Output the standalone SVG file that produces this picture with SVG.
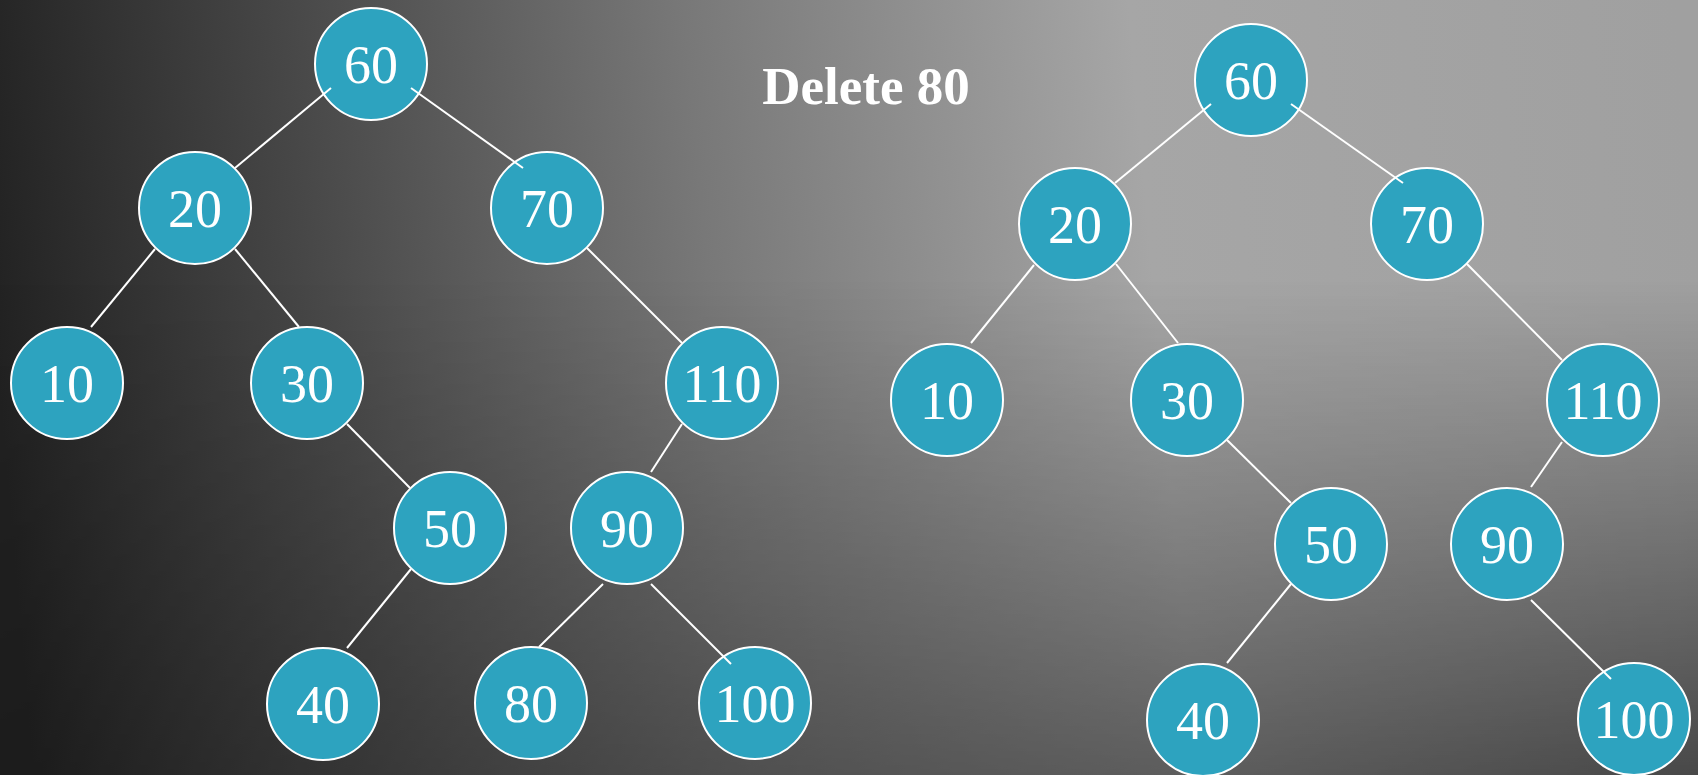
<svg xmlns="http://www.w3.org/2000/svg" width="1698" height="775" viewBox="0 0 1698 775">
  <defs>
    <!-- base backdrop: dark on the left, light grey to the right -->
    <linearGradient id="bg" gradientUnits="userSpaceOnUse" x1="0" y1="400" x2="1698" y2="250">
      <stop offset="0" stop-color="#222222"/>
      <stop offset="0.18" stop-color="#464646"/>
      <stop offset="0.42" stop-color="#787878"/>
      <stop offset="0.68" stop-color="#a6a6a6"/>
      <stop offset="1" stop-color="#a0a0a0"/>
    </linearGradient>
    <!-- shading that darkens the lower part -->
    <linearGradient id="shade" gradientUnits="userSpaceOnUse" x1="0" y1="280" x2="0" y2="775">
      <stop offset="0" stop-color="#000000" stop-opacity="0"/>
      <stop offset="1" stop-color="#000000" stop-opacity="0.55"/>
    </linearGradient>
    <linearGradient id="shadeMaskFill" gradientUnits="userSpaceOnUse" x1="0" y1="0" x2="1698" y2="0">
      <stop offset="0" stop-color="#4d4d4d"/>
      <stop offset="1" stop-color="#ffffff"/>
    </linearGradient>
    <mask id="shadeMask" maskUnits="userSpaceOnUse" x="0" y="0" width="1698" height="775">
      <rect x="0" y="0" width="1698" height="775" fill="url(#shadeMaskFill)"/>
    </mask>
    <style>
      .node circle { fill: #2da3bf; stroke: #ffffff; stroke-width: 2; }
      .node text { fill: #ffffff; font-family: "Liberation Serif", "Times New Roman", serif; font-size: 54px; text-anchor: middle; }
      .edges line { stroke: #ffffff; stroke-width: 2; }
      .title { fill: #ffffff; font-family: "Liberation Serif", "Times New Roman", serif; font-size: 53px; font-weight: bold; text-anchor: middle; }
    </style>
  </defs>

  <rect x="0" y="0" width="1698" height="775" fill="url(#bg)"/>
  <rect x="0" y="0" width="1698" height="775" fill="url(#shade)" mask="url(#shadeMask)"/>

  <text class="title" x="866" y="104">Delete 80</text>

  <!-- Tree before deletion -->
  <g id="tree-before">
    <g id="a60" class="node"><circle cx="371" cy="64" r="56"/><text x="371" y="83">60</text></g>
    <g id="a20" class="node"><circle cx="195" cy="208" r="56"/><text x="195" y="227">20</text></g>
    <g id="a70" class="node"><circle cx="547" cy="208" r="56"/><text x="547" y="227">70</text></g>
    <g id="a10" class="node"><circle cx="67" cy="383" r="56"/><text x="67" y="402">10</text></g>
    <g id="a30" class="node"><circle cx="307" cy="383" r="56"/><text x="307" y="402">30</text></g>
    <g id="a110" class="node"><circle cx="722" cy="383" r="56"/><text x="722" y="402">110</text></g>
    <g id="a50" class="node"><circle cx="450" cy="528" r="56"/><text x="450" y="547">50</text></g>
    <g id="a90" class="node"><circle cx="627" cy="528" r="56"/><text x="627" y="547">90</text></g>
    <g id="a40" class="node"><circle cx="323" cy="704" r="56"/><text x="323" y="723">40</text></g>
    <g id="a80" class="node"><circle cx="531" cy="703" r="56"/><text x="531" y="722">80</text></g>
    <g id="a100" class="node"><circle cx="755" cy="703" r="56"/><text x="755" y="722">100</text></g>
  </g>

  <!-- Tree after deletion -->
  <g id="tree-after">
    <g id="b60" class="node"><circle cx="1251" cy="80" r="56"/><text x="1251" y="99">60</text></g>
    <g id="b20" class="node"><circle cx="1075" cy="224" r="56"/><text x="1075" y="243">20</text></g>
    <g id="b70" class="node"><circle cx="1427" cy="224" r="56"/><text x="1427" y="243">70</text></g>
    <g id="b10" class="node"><circle cx="947" cy="400" r="56"/><text x="947" y="419">10</text></g>
    <g id="b30" class="node"><circle cx="1187" cy="400" r="56"/><text x="1187" y="419">30</text></g>
    <g id="b110" class="node"><circle cx="1603" cy="400" r="56"/><text x="1603" y="419">110</text></g>
    <g id="b50" class="node"><circle cx="1331" cy="544" r="56"/><text x="1331" y="563">50</text></g>
    <g id="b90" class="node"><circle cx="1507" cy="544" r="56"/><text x="1507" y="563">90</text></g>
    <g id="b40" class="node"><circle cx="1203" cy="720" r="56"/><text x="1203" y="739">40</text></g>
    <g id="b100" class="node"><circle cx="1634" cy="719" r="56"/><text x="1634" y="738">100</text></g>
  </g>

  <!-- Connectors, drawn over the node outlines -->
  <g id="edges" class="edges">
    <line x1="331" y1="88" x2="235" y2="168"/>
    <line x1="411" y1="88" x2="523" y2="168"/>
    <line x1="155" y1="249" x2="91" y2="327"/>
    <line x1="235" y1="249" x2="299" y2="327"/>
    <line x1="587" y1="248" x2="682" y2="343"/>
    <line x1="347" y1="424" x2="410" y2="488"/>
    <line x1="411" y1="569" x2="347" y2="648"/>
    <line x1="682" y1="424" x2="651" y2="472"/>
    <line x1="603" y1="584" x2="539" y2="647"/>
    <line x1="651" y1="584" x2="731" y2="664"/>

    <line x1="1211" y1="104" x2="1115" y2="183"/>
    <line x1="1291" y1="104" x2="1403" y2="183"/>
    <line x1="1034" y1="265" x2="971" y2="343"/>
    <line x1="1116" y1="264" x2="1178" y2="343"/>
    <line x1="1467" y1="264" x2="1562" y2="360"/>
    <line x1="1227" y1="440" x2="1291" y2="503"/>
    <line x1="1291" y1="584" x2="1227" y2="663"/>
    <line x1="1562" y1="442" x2="1531" y2="487"/>
    <line x1="1531" y1="600" x2="1611" y2="679"/>
  </g>
</svg>
